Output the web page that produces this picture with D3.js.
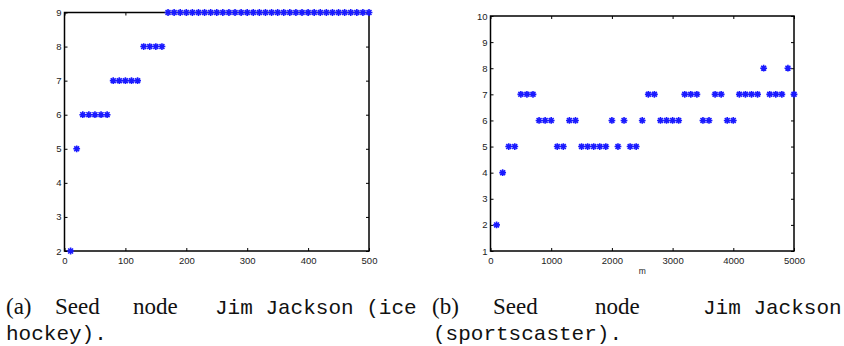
<!DOCTYPE html>
<html>
<head>
<meta charset="utf-8">
<script src="https://cdn.jsdelivr.net/npm/d3@7"></script>
<style>
body { margin: 0; background: #fff; }
svg { display: block; }
.tick text { font-family: "Liberation Sans", Arial, sans-serif; font-size: 9.5px; fill: #222; }
.cap { fill: #111; }
.serif { font-family: "Liberation Serif", "DejaVu Serif", serif; font-size: 23px; }
.mono { font-family: "Liberation Mono", "DejaVu Sans Mono", monospace; font-size: 21px; }
</style>
</head>
<body>
<div id="fig"></div>
<script>
// (a) seed node Jim Jackson (ice hockey)
const xA = [10, 20, 30, 40, 50, 60, 70, 80, 90, 100, 110, 120, 130, 140, 150, 160, 170, 180, 190, 200,
	210, 220, 230, 240, 250, 260, 270, 280, 290, 300, 310, 320, 330, 340, 350, 360, 370, 380, 390, 400,
	410, 420, 430, 440, 450, 460, 470, 480, 490, 500]
const yA = [2, 5, 6, 6, 6, 6, 6, 7, 7, 7, 7, 7, 8, 8, 8, 8, 9, 9, 9, 9,
	9, 9, 9, 9, 9, 9, 9, 9, 9, 9, 9, 9, 9, 9, 9, 9, 9, 9, 9, 9,
	9, 9, 9, 9, 9, 9, 9, 9, 9, 9]
const xTicksA = [0, 100, 200, 300, 400, 500]
const yTicksA = [2, 3, 4, 5, 6, 7, 8, 9]

// (b) seed node Jim Jackson (sportscaster)
const xB = [100, 200, 300, 400, 500, 600, 700, 800, 900, 1000, 1100, 1200, 1300, 1400, 1500, 1600, 1700, 1800, 1900, 2000,
	2100, 2200, 2300, 2400, 2500, 2600, 2700, 2800, 2900, 3000, 3100, 3200, 3300, 3400, 3500, 3600, 3700, 3800, 3900, 4000,
	4100, 4200, 4300, 4400, 4500, 4600, 4700, 4800, 4900, 5000]
const yB = [2, 4, 5, 5, 7, 7, 7, 6, 6, 6, 5, 5, 6, 6, 5, 5, 5, 5, 5, 6,
	5, 6, 5, 5, 6, 7, 7, 6, 6, 6, 6, 7, 7, 7, 6, 6, 7, 7, 6, 6,
	7, 7, 7, 7, 8, 7, 7, 7, 8, 7]
const xTicksB = [0, 1000, 2000, 3000, 4000, 5000]
const yTicksB = [1, 2, 3, 4, 5, 6, 7, 8, 9, 10]

const W = 844, H = 346

let svg = d3.select('#fig')
.append('svg')
.attr('width', W)
.attr('height', H)

// matlab style '*' marker
const star = r => {
	const d = r * 0.72
	return `M${-r},0L${r},0M0,${-r}L0,${r}M${-d},${-d}L${d},${d}M${-d},${d}L${d},${-d}`
}

function drawPanel(box, xs, ys, xDom, yDom, xTicks, yTicks, xLabel) {
	let xScale = d3.scaleLinear()
	.domain(xDom)
	.range([box.left, box.right])

	let yScale = d3.scaleLinear()
	.domain(yDom)
	.range([box.bottom, box.top])

	let g = svg.append('g')

	// ticks inside on all four sides
	g.append('g')
	.attr('transform', `translate(0, ${box.bottom})`)
	.call(d3.axisBottom(xScale).tickValues(xTicks).tickSize(-3).tickPadding(6).tickFormat(d3.format('d')))
	g.append('g')
	.attr('transform', `translate(0, ${box.top})`)
	.call(d3.axisTop(xScale).tickValues(xTicks).tickSize(-3).tickFormat(''))
	g.append('g')
	.attr('transform', `translate(${box.left}, 0)`)
	.call(d3.axisLeft(yScale).tickValues(yTicks).tickSize(-3).tickPadding(3).tickFormat(d3.format('d')))
	g.append('g')
	.attr('transform', `translate(${box.right}, 0)`)
	.call(d3.axisRight(yScale).tickValues(yTicks).tickSize(-3).tickFormat(''))

	g.selectAll('.domain').remove()
	g.selectAll('.tick line').attr('stroke', '#000').attr('stroke-width', 1)

	g.append('rect')
	.attr('x', box.left)
	.attr('y', box.top)
	.attr('width', box.right - box.left)
	.attr('height', box.bottom - box.top)
	.attr('fill', 'none')
	.attr('stroke', '#000')
	.attr('stroke-width', 1.5)

	g.selectAll('.pt')
	.data(xs.map((x, i) => [x, ys[i]]))
	.join('path')
	.attr('class', 'pt')
	.attr('transform', d => `translate(${xScale(d[0])}, ${yScale(d[1])})`)
	.attr('d', star(3.4))
	.attr('stroke', '#1a1aff')
	.attr('stroke-width', 1.6)
	.attr('fill', 'none')

	if (xLabel) {
		g.append('text')
		.attr('x', (box.left + box.right) / 2)
		.attr('y', box.bottom + 23)
		.attr('text-anchor', 'middle')
		.style('font-family', '"Liberation Sans", Arial, sans-serif')
		.style('font-size', '8.5px')
		.style('fill', '#222')
		.text(xLabel)
	}
}

drawPanel({ left: 64.5, right: 369, top: 12.5, bottom: 251 }, xA, yA, [0, 500], [2, 9], xTicksA, yTicksA, null)
drawPanel({ left: 490.5, right: 794, top: 16, bottom: 251 }, xB, yB, [0, 5000], [1, 10], xTicksB, yTicksB, 'm')

// captions, justified by hand like the latex source
const capWords = [
	{ t: '(a)', x: 6, y: 314, f: 'serif' },
	{ t: 'Seed', x: 55, y: 314, f: 'serif' },
	{ t: 'node', x: 133, y: 314, f: 'serif' },
	{ t: 'Jim Jackson (ice', x: 215, y: 314, f: 'mono' },
	{ t: 'hockey).', x: 6, y: 340, f: 'mono' },
	{ t: '(b)', x: 432, y: 314, f: 'serif' },
	{ t: 'Seed', x: 493, y: 314, f: 'serif' },
	{ t: 'node', x: 595, y: 314, f: 'serif' },
	{ t: 'Jim Jackson', x: 703, y: 314, f: 'mono' },
	{ t: '(sportscaster).', x: 433, y: 340, f: 'mono' }
]

svg.selectAll('.cap')
.data(capWords)
.join('text')
.attr('class', d => 'cap ' + d.f)
.attr('x', d => d.x)
.attr('y', d => d.y)
.text(d => d.t)
</script>
</body>
</html>
